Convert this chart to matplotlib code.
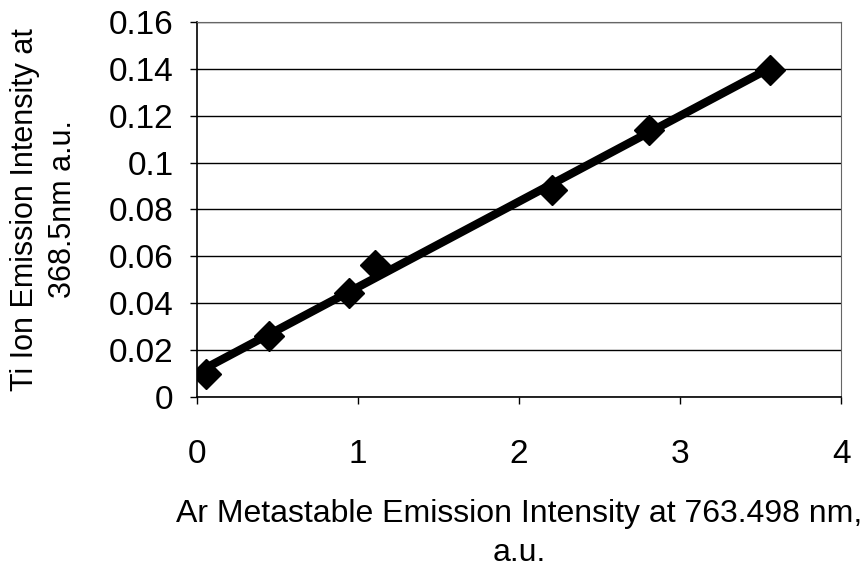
import numpy as np
import matplotlib
matplotlib.use("Agg")
import matplotlib.pyplot as plt

plt.rcParams['font.family'] = ['Liberation Sans', 'DejaVu Sans']

# Ar metastable vs Ti ion emission
ar_intensity = [0.054, 0.447, 0.946, 1.103, 2.206, 2.81, 3.561]
ti_intensity = [0.0099, 0.0262, 0.0445, 0.0564, 0.0884, 0.1139, 0.1396]

x_ticks = [0, 1, 2, 3, 4]
y_ticks = [0, 0.02, 0.04, 0.06, 0.08, 0.1, 0.12, 0.14, 0.16]
y_tick_labels = ["0", "0.02", "0.04", "0.06", "0.08", "0.1", "0.12", "0.14", "0.16"]

fig = plt.figure(figsize=(8.68, 5.73), dpi=100)
ax = fig.add_axes([0.227, 0.307, 0.742, 0.655])

# linear trendline
slope, icept = np.polyfit(ar_intensity, ti_intensity, 1)
xl = np.array([ar_intensity[0], ar_intensity[-1]])
ax.plot(ar_intensity, ti_intensity, linestyle='none', marker='D', ms=15,
        color='black', zorder=3)
ax.plot(xl, slope * xl + icept, color='black', lw=6, solid_capstyle='butt', zorder=4)

ax.set_xlim(0, 4)
ax.set_ylim(0, 0.16)
ax.set_xticks(x_ticks)
ax.set_yticks(y_ticks)
ax.set_yticklabels(y_tick_labels)
ax.yaxis.grid(True, color='black', lw=1)
ax.set_axisbelow(True)

for side in ['top', 'right']:
    ax.spines[side].set_color('#666666')
for side in ['left', 'bottom']:
    ax.spines[side].set_color('black')
    ax.spines[side].set_linewidth(1.2)

ax.tick_params(axis='both', direction='out', length=5, width=1, labelsize=24)
ax.tick_params(axis='x', pad=25)
ax.tick_params(axis='y', pad=12)

ax.set_xlabel("Ar Metastable Emission Intensity at 763.498 nm,\na.u.",
              fontsize=23, linespacing=1.4)
ax.set_ylabel("Ti Ion Emission Intensity at\n368.5nm a.u.",
              fontsize=22, linespacing=1.35)
ax.xaxis.set_label_coords(0.5, -0.272)
ax.yaxis.set_label_coords(-0.185, 0.5)

fig.savefig("out.png", dpi=100)
